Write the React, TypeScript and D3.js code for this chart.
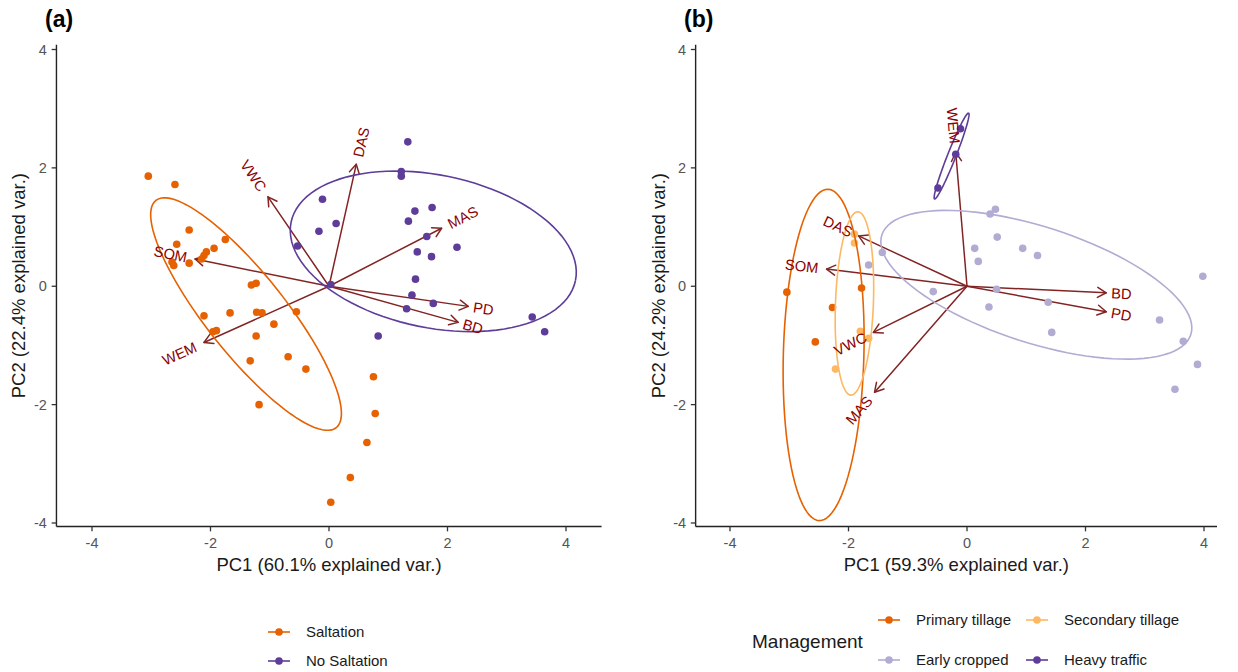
import React from 'react';
import * as d3 from 'd3';

const FONT = '"Liberation Sans", Arial, Helvetica, sans-serif';

// ---------- Panel (a): saltation vs no saltation ----------
const saltationScores: [number, number][] = [
  [-3.05, 1.86], [-2.6, 1.72], [-2.36, 0.95], [-1.75, 0.79], [-2.57, 0.71], [-1.94, 0.64],
  [-2.07, 0.58], [-2.11, 0.52], [-2.15, 0.46], [-2.36, 0.39], [-2.65, 0.41], [-2.62, 0.35],
  [-1.31, 0.02], [-1.23, 0.05], [-2.11, -0.5], [-1.67, -0.45], [-1.22, -0.44], [-1.13, -0.45],
  [-0.55, -0.43], [-0.93, -0.64], [-1.96, -0.77], [-1.9, -0.75], [-1.23, -0.84], [-1.33, -1.26],
  [-0.69, -1.19], [-0.39, -1.4], [-1.18, -2.0], [0.75, -1.53], [0.78, -2.15], [0.64, -2.64],
  [0.36, -3.23], [0.03, -3.65],
];
const noSaltationScores: [number, number][] = [
  [1.33, 2.44], [1.22, 1.94], [1.22, 1.86], [-0.11, 1.47], [0.12, 1.06], [-0.17, 0.93],
  [1.45, 1.27], [1.74, 1.33], [1.34, 1.1], [1.65, 0.84], [2.16, 0.66], [1.49, 0.58],
  [1.73, 0.5], [-0.53, 0.68], [0.03, 0.03], [1.46, 0.12], [1.4, -0.15], [1.76, -0.29],
  [1.31, -0.38], [3.43, -0.52], [3.64, -0.77], [0.83, -0.84],
];
const variablesA = ['DAS', 'VWC', 'SOM', 'WEM', 'MAS', 'PD', 'BD'];
const loadingsA_PC1 = [0.46, -1.03, -2.26, -2.11, 1.9, 2.35, 2.18];
const loadingsA_PC2 = [2.06, 1.51, 0.46, -0.95, 0.98, -0.34, -0.61];
// 68% normal ellipses: centre, semi-axes and rotation (degrees) in PC units
const ellipseSaltation = { cx: -1.4, cy: -0.47, a: 2.45, b: 0.67, angle: -51.6 };
const ellipseNoSaltation = { cx: 1.76, cy: 0.59, a: 2.45, b: 1.29, angle: -11.6 };

// ---------- Panel (b): management ----------
const primaryScores: [number, number][] = [
  [-3.04, -0.1], [-1.78, -0.03], [-2.27, -0.36], [-2.56, -0.94],
];
const secondaryScores: [number, number][] = [
  [-1.9, 0.88], [-1.9, 0.73], [-1.8, -0.76], [-1.66, -0.88], [-2.22, -1.4],
];
const earlyScores: [number, number][] = [
  [0.48, 1.3], [0.39, 1.22], [0.51, 0.83], [0.13, 0.64], [0.19, 0.42], [-1.43, 0.57],
  [-1.66, 0.36], [-0.57, -0.09], [0.5, -0.05], [0.37, -0.35], [0.94, 0.64], [1.19, 0.52],
  [1.37, -0.27], [1.43, -0.78], [3.25, -0.57], [3.65, -0.93], [3.98, 0.17], [3.89, -1.32],
  [3.51, -1.74],
];
const heavyScores: [number, number][] = [
  [-0.11, 2.66], [-0.19, 2.23], [-0.49, 1.66],
];
const variablesB = ['WEM', 'DAS', 'SOM', 'VWC', 'MAS', 'BD', 'PD'];
const loadingsB_PC1 = [-0.19, -1.83, -2.37, -1.58, -1.56, 2.35, 2.35];
const loadingsB_PC2 = [2.26, 0.85, 0.29, -0.78, -1.79, -0.11, -0.43];
const ellipsePrimary = { cx: -2.42, cy: -1.16, a: 2.8, b: 0.68, angle: 88.5 };
const ellipseSecondary = { cx: -1.9, cy: -0.29, a: 1.55, b: 0.32, angle: 87.8 };
const ellipseEarly = { cx: 1.17, cy: 0.025, a: 2.74, b: 0.98, angle: -17.9 };
const ellipseHeavy = { cx: -0.26, cy: 2.2, a: 0.78, b: 0.07, angle: 68.4 };

const axisTicks = [-4, -2, 0, 2, 4];

const ORANGE = '#E66101';
const LIGHT_ORANGE = '#FDB863';
const LAVENDER = '#B2ABD2';
const PURPLE = '#5E3C99';
const ARROW = '#832424';
const LABEL = '#8B0000';

type Ell = { cx: number; cy: number; a: number; b: number; angle: number };
type Group = { name: string; color: string; scores: [number, number][]; ellipse: Ell };

let measureCtx: CanvasRenderingContext2D | null = null;
function textWidth(s: string, size: number) {
  if (!measureCtx) measureCtx = document.createElement('canvas').getContext('2d');
  if (!measureCtx) return s.length * size * 0.6;
  measureCtx.font = `${size}px ${FONT}`;
  return measureCtx.measureText(s).width;
}

function ellipsePoints(e: Ell): [number, number][] {
  const phi = (e.angle * Math.PI) / 180;
  return d3.range(0, 101).map((i) => {
    const t = (i / 100) * 2 * Math.PI;
    return [
      e.cx + e.a * Math.cos(phi) * Math.cos(t) - e.b * Math.sin(phi) * Math.sin(t),
      e.cy + e.a * Math.sin(phi) * Math.cos(t) + e.b * Math.cos(phi) * Math.sin(t),
    ];
  });
}

type PanelProps = {
  tag: string;
  tagX: number;
  xRange: [number, number];
  xlim: [number, number];
  xTitle: string;
  yTitle: string;
  groups: Group[];
  vars: string[];
  pc1: number[];
  pc2: number[];
};

const yScale = d3.scaleLinear().domain([-4, 4]).range([523, 49.5]);
const ylim: [number, number] = [-4.06, 4.08];
const LABEL_SIZE = 14.7;

function Panel({ tag, tagX, xRange, xlim, xTitle, yTitle, groups, vars, pc1, pc2 }: PanelProps) {
  const x = d3.scaleLinear().domain([-4, 4]).range(xRange);
  const y = yScale;
  const left = x(xlim[0]);
  const right = x(xlim[1]);
  const bottom = y(ylim[0]);
  const top = y(ylim[1]);
  const cx = (left + right) / 2;
  const line = d3
    .line<[number, number]>()
    .x((d) => x(d[0]))
    .y((d) => y(d[1]));
  const ox = x(0);
  const oy = y(0);

  return (
    <g>
      <text x={tagX} y={27} fontSize={23} fontWeight="bold" fontFamily={FONT} fill="#000">
        {tag}
      </text>

      {/* loading arrows */}
      {vars.map((v, i) => {
        const tx = x(pc1[i]);
        const ty = y(pc2[i]);
        const ang = Math.atan2(ty - oy, tx - ox);
        const L = 10;
        const h1 = [tx - L * Math.cos(ang - Math.PI / 6), ty - L * Math.sin(ang - Math.PI / 6)];
        const h2 = [tx - L * Math.cos(ang + Math.PI / 6), ty - L * Math.sin(ang + Math.PI / 6)];
        return (
          <g key={'arr' + v} stroke={ARROW} strokeWidth={1.5} fill="none" strokeLinecap="round">
            <line x1={ox} y1={oy} x2={tx} y2={ty} />
            <polyline points={`${h1[0]},${h1[1]} ${tx},${ty} ${h2[0]},${h2[1]}`} strokeLinejoin="round" />
          </g>
        );
      })}

      {/* scores */}
      {groups.map((g) =>
        g.scores.map((p, j) => (
          <circle key={g.name + j} cx={x(p[0])} cy={y(p[1])} r={3.8} fill={g.color} />
        ))
      )}

      {/* group ellipses */}
      {groups.map((g) => (
        <path key={'ell' + g.name} d={line(ellipsePoints(g.ellipse)) || ''} fill="none" stroke={g.color} strokeWidth={1.6} />
      ))}

      {/* variable labels */}
      {vars.map((v, i) => {
        const tx = x(pc1[i]);
        const ty = y(pc2[i]);
        const angle = (Math.atan(pc2[i] / pc1[i]) * 180) / Math.PI;
        const w = textWidth(v, LABEL_SIZE);
        const pos = pc1[i] >= 0;
        return (
          <text
            key={'lab' + v}
            transform={`translate(${tx},${ty}) rotate(${-angle})`}
            textAnchor={pos ? 'start' : 'end'}
            dx={pos ? 0.25 * w : -0.25 * w}
            dy="0.36em"
            fontSize={LABEL_SIZE}
            fontFamily={FONT}
            fill={LABEL}
          >
            {v}
          </text>
        );
      })}

      {/* axes */}
      <line x1={left} y1={bottom} x2={right} y2={bottom} stroke="#222" strokeWidth={1.4} />
      <line x1={left} y1={bottom} x2={left} y2={top} stroke="#222" strokeWidth={1.4} />
      {axisTicks.map((t) => (
        <g key={'xt' + t}>
          <line x1={x(t)} x2={x(t)} y1={bottom} y2={bottom + 4.8} stroke="#333" strokeWidth={1.3} />
          <text x={x(t)} y={bottom + 21.5} textAnchor="middle" fontSize={14.5} fontFamily={FONT} fill="#555">
            {t}
          </text>
        </g>
      ))}
      {axisTicks.map((t) => (
        <g key={'yt' + t}>
          <line x1={left - 4.8} x2={left} y1={y(t)} y2={y(t)} stroke="#333" strokeWidth={1.3} />
          <text x={left - 9.5} y={y(t)} dy="0.35em" textAnchor="end" fontSize={14.5} fontFamily={FONT} fill="#555">
            {t}
          </text>
        </g>
      ))}
      <text x={cx} y={bottom + 44} textAnchor="middle" fontSize={18.5} fontFamily={FONT} fill="#1a1a1a">
        {xTitle}
      </text>
      <text
        transform={`translate(${left - 31},${(top + bottom) / 2}) rotate(-90)`}
        textAnchor="middle"
        fontSize={18.5}
        fontFamily={FONT}
        fill="#1a1a1a"
      >
        {yTitle}
      </text>
    </g>
  );
}

function LegendKey({ x, y, color, label }: { x: number; y: number; color: string; label: string }) {
  return (
    <g>
      <line x1={x - 11} x2={x + 11} y1={y} y2={y} stroke={color} strokeWidth={1.6} />
      <circle cx={x} cy={y} r={3.8} fill={color} />
      <text x={x + 27} y={y} dy="0.35em" fontSize={15} fontFamily={FONT} fill="#1a1a1a">
        {label}
      </text>
    </g>
  );
}

export default function App() {
  const groupsA: Group[] = [
    { name: 'Saltation', color: ORANGE, scores: saltationScores, ellipse: ellipseSaltation },
    { name: 'No Saltation', color: PURPLE, scores: noSaltationScores, ellipse: ellipseNoSaltation },
  ];
  const groupsB: Group[] = [
    { name: 'Primary tillage', color: ORANGE, scores: primaryScores, ellipse: ellipsePrimary },
    { name: 'Secondary tillage', color: LIGHT_ORANGE, scores: secondaryScores, ellipse: ellipseSecondary },
    { name: 'Early cropped', color: LAVENDER, scores: earlyScores, ellipse: ellipseEarly },
    { name: 'Heavy traffic', color: PURPLE, scores: heavyScores, ellipse: ellipseHeavy },
  ];

  return (
    <svg
      width={1238}
      height={672}
      style={{ position: 'absolute', left: 0, top: 0, background: '#fff' }}
    >
      <rect width={1238} height={672} fill="#fff" />
      <Panel
        tag="(a)"
        tagX={45}
        xRange={[92, 566]}
        xlim={[-4.6, 4.6]}
        xTitle="PC1 (60.1% explained var.)"
        yTitle="PC2 (22.4% explained var.)"
        groups={groupsA}
        vars={variablesA}
        pc1={loadingsA_PC1}
        pc2={loadingsA_PC2}
      />
      <Panel
        tag="(b)"
        tagX={684}
        xRange={[730, 1204]}
        xlim={[-4.58, 4.22]}
        xTitle="PC1 (59.3% explained var.)"
        yTitle="PC2 (24.2% explained var.)"
        groups={groupsB}
        vars={variablesB}
        pc1={loadingsB_PC1}
        pc2={loadingsB_PC2}
      />

      {/* legend (a) */}
      <LegendKey x={279} y={632} color={ORANGE} label="Saltation" />
      <LegendKey x={279} y={661} color={PURPLE} label="No Saltation" />

      {/* legend (b) */}
      <text x={752} y={641} dy="0.35em" fontSize={19} fontFamily={FONT} fill="#1a1a1a">
        Management
      </text>
      <LegendKey x={889} y={620} color={ORANGE} label="Primary tillage" />
      <LegendKey x={1037} y={620} color={LIGHT_ORANGE} label="Secondary tillage" />
      <LegendKey x={889} y={660} color={LAVENDER} label="Early cropped" />
      <LegendKey x={1037} y={660} color={PURPLE} label="Heavy traffic" />
    </svg>
  );
}
